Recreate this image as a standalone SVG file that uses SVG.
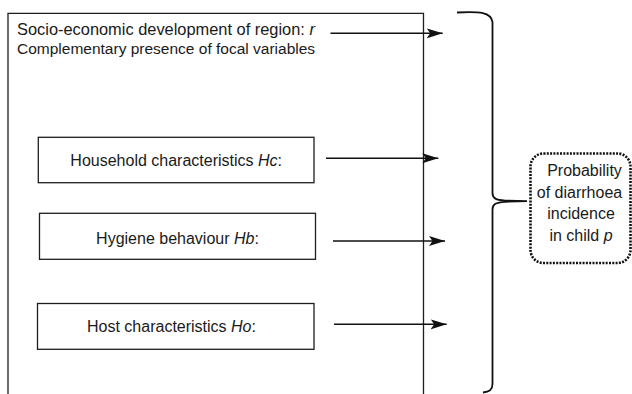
<svg xmlns="http://www.w3.org/2000/svg" width="632" height="394" viewBox="0 0 632 394">
<style>
  .frame { fill: none; stroke: #1e1e1e; stroke-width: 1.3; }
  .box { fill: #ffffff; stroke: #1e1e1e; stroke-width: 1.3; }
  .lbl { font-family: "Liberation Sans", Arial, sans-serif; font-size: 16px; fill: #1a1a1a; }
  .it { font-style: italic; }
  .arrow { fill: none; stroke: #111111; stroke-width: 1.4; }
  .brace { fill: none; stroke: #111111; stroke-width: 1.8; }
  .dotted { fill: #ffffff; stroke: #111111; stroke-width: 2.6; stroke-dasharray: 2 1.3; }
</style>
<defs>
  <marker id="ah" markerUnits="userSpaceOnUse" markerWidth="17" markerHeight="12" refX="16" refY="5" orient="auto">
    <path d="M0,0 L16,5 L0,10 L3.5,5 z" fill="#111111"/>
  </marker>
</defs>
<rect width="632" height="394" fill="#ffffff"/>

<g id="region">
  <path class="frame" d="M8,400 V13.3 H423.5 V400"/>
  <text class="lbl" x="17" y="34.5" style="font-size:16.4px">Socio-economic development of region: <tspan class="it">r</tspan></text>
  <text class="lbl" x="17" y="54" style="font-size:15.5px">Complementary presence of focal variables</text>
</g>

<g id="household">
  <rect class="box" x="38.3" y="137.3" width="275.7" height="45.4"/>
  <text class="lbl" text-anchor="middle" x="176.2" y="166">Household characteristics <tspan class="it">Hc</tspan>:</text>
</g>

<g id="hygiene">
  <rect class="box" x="39.5" y="213.3" width="276" height="46"/>
  <text class="lbl" text-anchor="middle" x="177.5" y="244">Hygiene behaviour <tspan class="it">Hb</tspan>:</text>
</g>

<g id="host">
  <rect class="box" x="37.5" y="303.5" width="276.5" height="45.8"/>
  <text class="lbl" text-anchor="middle" x="171.5" y="332">Host characteristics <tspan class="it">Ho</tspan>:</text>
</g>

<g id="outcome">
  <rect class="dotted" x="530.5" y="153.5" width="100" height="109.5" rx="13" ry="13"/>
  <text class="lbl" text-anchor="middle" x="584.5" y="175.5">Probability</text>
  <text class="lbl" text-anchor="middle" x="579.5" y="197.5">of diarrhoea</text>
  <text class="lbl" text-anchor="middle" x="581" y="219">incidence</text>
  <text class="lbl" text-anchor="middle" x="581" y="240.5">in child <tspan class="it">p</tspan></text>
</g>

<g id="connectors">
  <line class="arrow" x1="330.5" y1="33.3" x2="442.7" y2="33.3" marker-end="url(#ah)"/>
  <line class="arrow" x1="326" y1="158.3" x2="438.3" y2="158.3" marker-end="url(#ah)"/>
  <line class="arrow" x1="333" y1="241" x2="445" y2="241" marker-end="url(#ah)"/>
  <line class="arrow" x1="334" y1="324.3" x2="446.7" y2="324.3" marker-end="url(#ah)"/>
  <path class="brace" d="M457,12.5 C480,11.5 491,12 492.5,22 V193 C492.5,198.5 496,200 505,200.6 L527,201.2 L505,201.8 C496,202.4 492.5,204 492.5,209.5 V384 C492.5,390 489.5,392 483,392.5"/>
</g>
</svg>
